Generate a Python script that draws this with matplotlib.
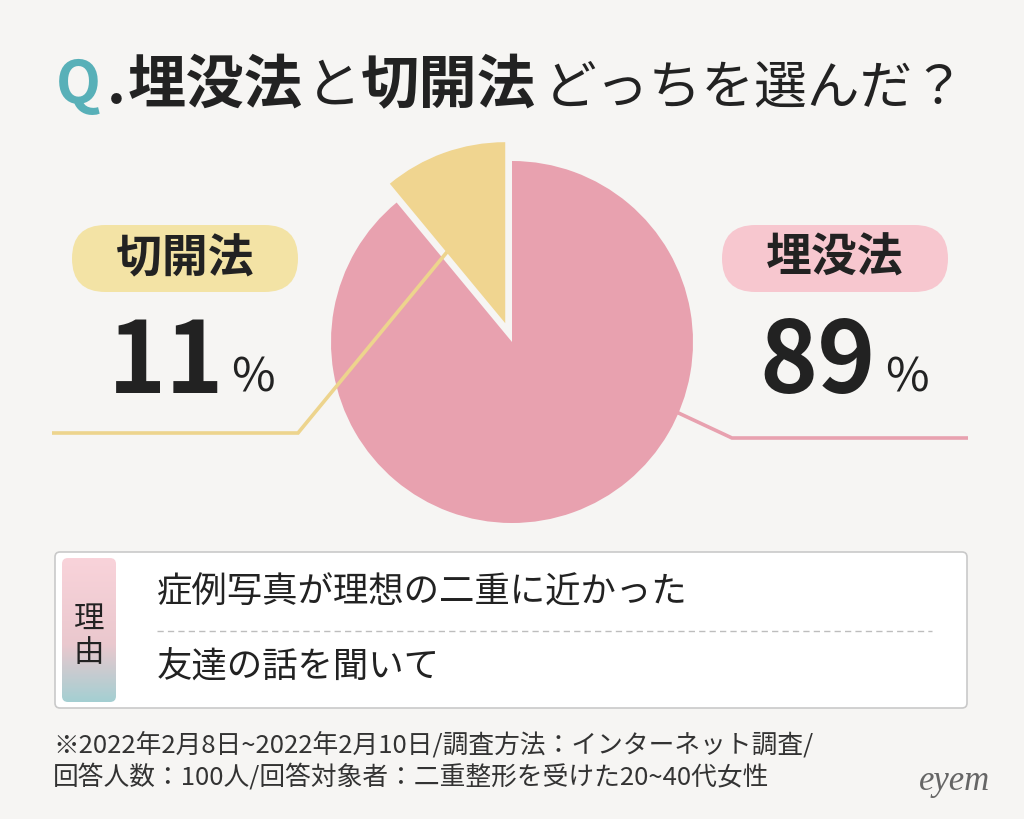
import numpy as np
import matplotlib
matplotlib.use('Agg')
import matplotlib.pyplot as plt
from matplotlib.patches import FancyBboxPatch

plt.rcParams['font.family'] = ['Noto Sans CJK JP', 'DejaVu Sans']

# データ
labels = ['埋没法', '切開法']
values = [89, 11]
colors = ['#E8A1AF', '#F0D590']
pill_colors = ['#F7C7CF', '#F3E3A5']
reasons = ['症例写真が理想の二重に近かった', '友達の話を聞いて']
title_parts = ['Q', '.', '埋没法', 'と', '切開法', 'どっちを選んだ？']
notes = ['※2022年2月8日~2022年2月10日/調査方法：インターネット調査/',
         '回答人数：100人/回答対象者：二重整形を受けた20~40代女性']

W, H = 1024, 819
BG = '#F6F5F3'
INK = '#222222'

fig = plt.figure(figsize=(W / 100, H / 100), dpi=100)
fig.patch.set_facecolor(BG)
ax = fig.add_axes([0, 0, 1, 1])

# 円グラフ (y軸を反転するので角度も反転 -> start 270, 反時計回り)
# explode はデータ単位(px)
wedges, _ = ax.pie(values, colors=colors, startangle=270, counterclock=True,
                   explode=[0, 20], radius=181, center=(512, 342),
                   wedgeprops=dict(linewidth=0, zorder=2))
wedges[1].set_zorder(4)

# 引き出し線
ax.plot([447, 298, 52], [252, 433, 433], color='#EDD48D', lw=2.6, zorder=3,
        solid_capstyle='butt', solid_joinstyle='miter')
ax.plot([640, 732, 968], [395, 438, 438], color=colors[0], lw=2.6, zorder=1,
        solid_capstyle='butt', solid_joinstyle='miter')

# ラベル (ピル + パーセント)
pill_x = [722, 72]
num_x = [818, 166]
pct_x = [885, 231]
for i in range(2):
    ax.add_patch(FancyBboxPatch((pill_x[i], 225), 226, 67,
                                boxstyle='round,pad=0,rounding_size=33.5',
                                fc=pill_colors[i], ec='none', zorder=2))
    ax.text(pill_x[i] + 113, 259, labels[i], ha='center', va='center',
            fontsize=33, fontweight='bold', color=INK, zorder=5)
    ax.text(num_x[i], 393, str(values[i]), ha='center', va='baseline',
            fontsize=71, fontweight='bold', color=INK, zorder=5)
    ax.text(pct_x[i], 392, '%', ha='left', va='baseline',
            fontsize=34, color=INK, zorder=5)

# タイトル
title_x = [56, 107, 128, 306, 361, 544]
title_c = ['#58B0B8', INK, INK, INK, INK, INK]
title_w = ['bold', 'bold', 'bold', 'normal', 'bold', 'normal']
title_s = [42, 42, 42, 40, 42, 38]
for t, x, c, w, s in zip(title_parts, title_x, title_c, title_w, title_s):
    ax.text(x, 103, t, ha='left', va='baseline', fontsize=s,
            fontweight=w, color=c)

# 理由ボックス
ax.add_patch(FancyBboxPatch((55, 552), 912, 156,
                            boxstyle='round,pad=0,rounding_size=5',
                            fc='white', ec='#C9C9C9', lw=1.2, zorder=2))
tab = FancyBboxPatch((62, 558), 54, 144, boxstyle='round,pad=0,rounding_size=6',
                     fc='none', ec='none', zorder=3)
ax.add_patch(tab)
t = np.linspace(0, 1, 120)[:, None, None]
top = np.array([249, 211, 218]) / 255
mid = np.array([234, 200, 206]) / 255
bot = np.array([164, 207, 210]) / 255
grad = np.where(t < 0.6, top + (mid - top) * (t / 0.6),
                mid + (bot - mid) * ((t - 0.6) / 0.4))
grad = np.repeat(grad, 10, axis=1)
im = ax.imshow(grad, extent=(62, 116, 702, 558), origin='upper',
               zorder=3, interpolation='bilinear')
im.set_clip_path(tab)
ax.text(89, 619, '理', ha='center', va='center', fontsize=22, color=INK, zorder=4)
ax.text(89, 653, '由', ha='center', va='center', fontsize=22, color=INK, zorder=4)

ax.plot([157, 932], [631, 631], color='#BDBDBD', lw=1, dashes=(4.5, 3), zorder=3)
ax.text(157, 593, reasons[0], ha='left', va='center', fontsize=25.5,
        color=INK, zorder=4)
ax.text(157, 668, reasons[1], ha='left', va='center', fontsize=25.5,
        color=INK, zorder=4)

# 注記
ax.text(53, 745, notes[0], ha='left', va='center', fontsize=18.5, color='#333333')
ax.text(53, 777, notes[1], ha='left', va='center', fontsize=18.5, color='#333333')

# ロゴ
ax.text(955, 781, 'eyem', ha='center', va='center', fontsize=25,
        family='Liberation Serif', style='italic', color='#666666')

ax.set_xlim(0, W)
ax.set_ylim(H, 0)
ax.set_aspect('equal')
ax.axis('off')

fig.savefig('out.png', dpi=100, facecolor=BG)
